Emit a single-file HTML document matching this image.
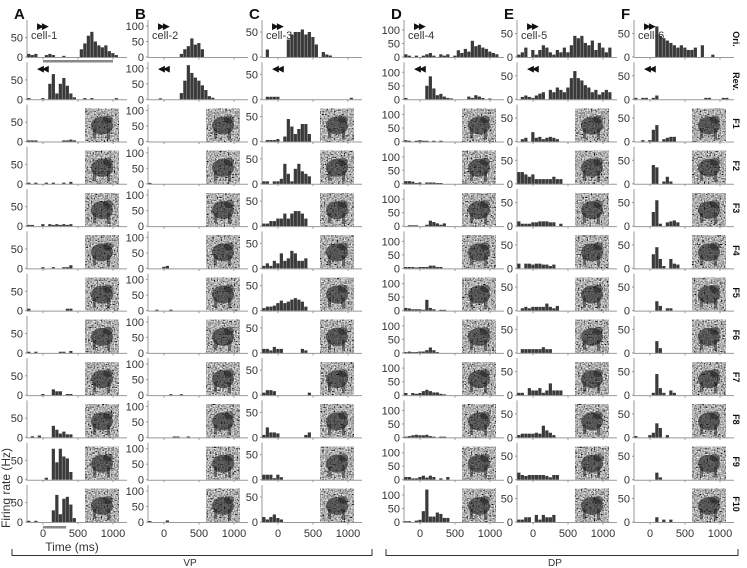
<!DOCTYPE html>
<html><head><meta charset="utf-8">
<style>
html,body{margin:0;padding:0;background:#fff;}
svg{display:block;font-family:"Liberation Sans",sans-serif;}
</style></head>
<body>
<svg id="fig" width="747" height="568" viewBox="0 0 747 568" xmlns="http://www.w3.org/2000/svg">
<defs>
<filter id="noise" x="0" y="0" width="100%" height="100%">
<feTurbulence type="fractalNoise" baseFrequency="0.7" numOctaves="1" seed="3"/>
<feColorMatrix type="matrix" values="0.33 0.33 0.33 0 0  0.33 0.33 0.33 0 0  0.33 0.33 0.33 0 0  0 0 0 0 1"/>
<feComponentTransfer><feFuncR type="linear" slope="3.2" intercept="-1.15"/><feFuncG type="linear" slope="3.2" intercept="-1.15"/><feFuncB type="linear" slope="3.2" intercept="-1.15"/></feComponentTransfer>
</filter>
</defs>
</svg>
<script>
// time bins (ms, bin centers)
const bins = [-200,-150,-100,-50,0,50,100,150,200,250,300,350,400,450,500,550,600,650,700,750,800,850,900,950,1000,1050,1100];
const rowLabels = ["Ori.","Rev.","F1","F2","F3","F4","F5","F6","F7","F8","F9","F10"];
const panelLetters = ["A","B","C","D","E","F"];
const cellNames = ["cell-1","cell-2","cell-3","cell-4","cell-5","cell-6"];
const xTicks = [0,500,1000];
const yTicksA = [0,50];
const yTicksB = [0,50,100];
const yTicksC = [0,50];
const yTicksD = [0,50,100];
const yTicksE = [0,50];
const yTicksF = [0,50];

const cellA = [
[8,5,8,0,0,5,8,5,0,0,3,0,0,0,0,20,35,55,65,40,30,25,30,15,10,5,0],
[3,0,0,0,3,0,40,65,15,40,55,35,15,5,0,0,3,0,3,0,0,0,0,0,0,3,0],
[3,3,3,0,0,0,0,0,0,0,3,3,5,3,0,0,0,0,0,0,0,0,0,0,0,0,0],
[3,0,3,0,0,3,0,3,0,0,3,0,5,0,0,0,0,0,0,0,0,0,0,0,0,0,0],
[3,3,0,0,5,0,5,3,5,3,5,3,5,0,0,0,0,0,0,0,0,0,0,0,0,0,0],
[0,0,0,0,3,0,0,3,0,0,3,3,8,0,0,0,0,0,0,0,0,0,0,0,0,0,0],
[5,0,0,0,0,0,0,0,0,0,0,5,5,0,0,0,0,0,0,0,0,0,0,0,0,0,0],
[3,0,3,0,0,0,0,0,0,3,3,0,5,0,0,0,0,0,0,0,0,0,0,0,0,0,0],
[0,0,0,0,3,0,0,15,10,10,0,3,3,0,0,0,0,0,0,0,0,0,0,0,0,0,0],
[0,3,0,5,0,0,0,30,20,10,15,8,8,0,0,0,0,0,0,0,0,0,0,0,0,0,0],
[0,0,0,0,0,5,0,80,45,80,60,55,20,0,0,0,0,0,0,0,0,0,0,0,0,0,0],
[3,0,3,0,0,0,0,30,70,20,60,65,45,10,0,0,0,0,0,0,0,0,0,0,0,0,0]];
const cellB = [
[0,0,0,0,0,0,0,0,0,10,25,35,60,40,45,25,0,0,0,0,0,0,0,0,0,0,0],
[0,0,0,3,0,0,0,0,0,20,60,110,85,70,60,45,30,10,5,0,0,0,0,0,0,0,0],
[0,0,0,0,0,0,0,0,0,0,0,0,0,0,0,0,0,0,0,0,0,0,0,0,0,0,0],
[3,0,0,0,0,0,0,0,0,0,0,0,0,0,0,0,0,0,0,0,0,0,0,0,0,0,0],
[0,0,0,0,0,0,0,0,0,0,0,0,0,0,0,0,0,0,0,0,0,0,0,0,0,0,0],
[0,0,0,0,5,8,0,0,0,0,0,0,0,0,0,0,0,0,0,0,0,0,0,0,0,0,0],
[0,0,3,0,0,0,3,0,0,0,0,0,0,0,0,0,0,0,0,0,0,0,0,0,0,0,0],
[0,0,0,0,0,0,0,0,0,0,0,0,0,0,0,0,0,0,0,0,0,0,0,0,0,0,0],
[0,0,0,0,0,0,3,0,0,3,0,0,0,0,0,0,0,0,0,0,0,0,0,0,0,0,0],
[0,0,0,0,0,0,0,3,3,0,0,3,0,0,0,0,0,0,0,0,0,0,0,0,0,0,0],
[0,0,0,0,0,0,0,0,0,0,0,0,0,0,0,0,0,0,0,0,0,0,0,0,0,0,0],
[3,0,0,0,0,5,0,0,0,0,0,0,0,0,0,0,0,0,0,0,0,0,0,0,0,0,0]];
const cellC = [
[0,15,0,0,0,0,0,35,45,50,50,55,45,50,40,25,0,10,5,3,0,0,0,0,0,0,0],
[0,5,5,5,5,0,0,0,0,0,0,0,0,0,0,0,0,0,0,0,0,0,0,0,0,3,0],
[0,3,3,3,5,0,10,45,30,15,25,35,35,15,0,0,0,0,0,0,0,0,0,0,0,0,0],
[5,5,0,5,5,10,40,20,5,30,40,25,20,15,0,0,0,0,0,0,0,0,0,0,0,0,0],
[5,5,10,10,15,15,25,15,25,30,30,25,15,0,0,0,0,0,0,0,0,0,0,0,0,0,0],
[5,10,5,15,10,30,15,20,35,30,15,15,20,0,0,0,0,0,0,0,0,0,0,0,0,0,0],
[5,8,8,10,15,20,15,18,22,25,22,18,8,0,0,0,0,0,0,0,0,0,0,0,0,0,0],
[8,8,5,12,8,8,0,0,0,0,0,8,5,0,0,0,0,0,0,0,0,0,0,0,0,0,0],
[5,10,10,8,0,0,0,0,0,0,0,0,0,5,0,0,0,0,0,0,0,0,0,0,0,0,0],
[5,20,10,10,8,0,0,0,0,0,0,0,5,10,0,0,0,0,0,0,0,0,0,0,0,0,0],
[10,10,10,3,10,5,0,0,0,0,0,0,0,0,0,0,0,0,0,0,0,0,0,0,0,0,0],
[10,5,10,15,8,5,0,0,0,0,0,0,0,0,0,0,0,0,0,0,0,0,0,0,0,0,0]];
const cellD = [
[10,5,0,5,0,5,10,15,5,0,10,5,10,0,5,25,15,30,20,60,40,45,35,30,20,15,10],
[5,0,0,0,0,0,50,85,40,15,20,10,5,3,0,0,0,0,10,5,15,10,5,0,3,0,0],
[5,3,0,3,5,3,3,0,3,0,3,0,0,0,0,0,0,0,0,0,0,0,0,0,0,0,0],
[10,10,8,3,5,0,5,5,5,3,3,0,0,0,0,0,0,0,0,0,0,0,0,0,0,0,0],
[0,3,3,3,0,0,5,20,15,10,5,10,0,0,0,0,0,0,0,0,0,0,0,0,0,0,0],
[5,5,5,3,5,5,5,10,10,5,5,0,0,0,0,0,0,0,0,0,0,0,0,0,0,0,0],
[10,8,5,5,5,3,40,10,5,0,3,3,0,0,0,0,0,0,0,0,0,0,0,0,0,0,0],
[3,5,3,3,5,5,10,20,10,3,0,0,0,0,0,0,0,0,0,0,0,0,0,0,0,0,0],
[8,0,8,5,8,15,20,15,10,10,5,3,0,0,0,0,0,0,0,0,0,0,0,0,0,0,0],
[3,5,8,10,8,8,10,5,3,0,3,3,0,0,0,0,0,0,0,0,0,0,0,0,0,0,0],
[10,10,5,5,10,15,8,15,10,0,5,0,10,0,0,0,0,0,0,0,0,0,0,0,0,0,0],
[3,3,0,5,8,40,120,20,20,35,30,15,15,0,0,0,0,0,0,0,0,0,0,0,0,0,0]];
const cellE = [
[5,10,20,0,15,5,15,25,20,10,5,15,10,20,10,25,45,40,45,30,25,35,15,30,20,10,20],
[0,5,8,5,3,8,12,15,0,20,15,25,20,15,25,45,60,45,40,30,25,15,20,10,15,20,15],
[0,5,8,0,20,8,10,5,8,10,8,5,0,0,0,0,0,0,0,0,0,0,0,0,0,0,0],
[25,25,20,15,20,10,10,10,10,10,15,10,10,0,0,0,0,0,0,0,0,0,0,0,0,0,0],
[10,5,5,5,8,8,10,10,10,8,8,0,5,0,0,0,0,0,0,0,0,0,0,0,0,0,0],
[10,0,10,10,8,10,10,8,8,5,8,0,0,0,0,0,0,0,0,0,0,0,0,0,0,0,0],
[0,5,8,5,8,8,8,8,15,8,5,10,0,0,0,0,0,0,0,0,0,0,0,0,0,0,0],
[0,8,8,8,8,8,8,12,8,8,0,0,0,0,0,0,0,0,0,0,0,0,0,0,0,0,0],
[5,5,0,15,10,10,15,5,10,25,10,10,10,0,0,0,0,0,0,0,0,0,0,0,0,0,0],
[5,8,8,8,8,10,8,25,15,10,5,0,0,0,0,0,0,0,0,0,0,0,0,0,0,0,0],
[15,10,8,10,10,10,10,10,8,5,10,10,0,0,0,0,0,0,0,0,0,0,0,0,0,0,0],
[5,5,10,10,0,15,5,15,10,10,15,0,0,0,0,0,0,0,0,0,0,0,0,0,0,0,0]];
const cellF = [
[0,0,0,0,0,0,65,45,40,35,30,25,20,25,20,15,15,20,0,25,0,0,5,0,0,0,0],
[3,0,3,3,0,3,8,0,0,0,0,0,0,0,0,0,0,0,0,0,3,3,0,0,0,3,3],
[0,0,3,0,3,25,35,0,5,8,10,10,0,0,0,0,0,0,0,0,0,0,0,0,0,0,0],
[0,0,0,0,0,40,35,0,5,15,5,0,0,0,0,0,0,0,0,0,0,0,0,0,0,0,0],
[0,0,0,0,0,30,55,5,0,8,10,12,8,0,0,0,0,0,0,0,0,0,0,0,0,0,0],
[0,0,0,0,0,30,45,20,5,0,20,10,8,0,0,0,0,0,0,0,0,0,0,0,0,0,0],
[0,0,0,0,0,0,20,10,0,5,5,0,0,0,0,0,0,0,0,0,0,0,0,0,0,0,0],
[0,0,0,0,0,0,25,10,0,0,0,0,0,0,0,0,0,0,0,0,0,0,0,0,0,0,0],
[0,0,0,0,0,5,45,15,5,0,10,5,0,0,0,0,0,0,0,0,0,0,0,0,0,0,0],
[3,0,0,0,5,10,30,20,0,5,0,0,0,0,0,0,0,0,0,0,0,0,0,0,0,0,0],
[0,0,0,0,0,0,15,5,0,0,0,0,0,0,0,0,0,0,0,0,0,0,0,0,0,0,0],
[0,0,0,0,0,0,10,0,5,0,5,0,0,0,0,0,0,0,0,0,0,0,0,0,0,0,0]];

const cells = [cellA,cellB,cellC,cellD,cellE,cellF];
const yTicksAll = [yTicksA,yTicksB,yTicksC,yTicksD,yTicksE,yTicksF];
// layout
const spines = [27,148,262,404,517,634];
const yScalePx = [0.387,0.31,0.5,0.27,0.47,0.47];
const pxPerMs = 0.07;
const zeroOff = 16;
const axisW = 100;
const base0 = 57, rowStep = 42.27;

const svg = document.getElementById('fig');
const NS = 'http://www.w3.org/2000/svg';
function mk(tag, attrs, parent){
  const e = document.createElementNS(NS, tag);
  for (const k in attrs) e.setAttribute(k, attrs[k]);
  (parent||svg).appendChild(e);
  return e;
}
function xOf(c, t){ return spines[c] + zeroOff + t*pxPerMs; }
function yOf(c, r, v){ return base0 + r*rowStep - v*yScalePx[c]; }

for (let c=0;c<6;c++){
  const L = mk('text',{x:spines[c]-13,y:19,'font-size':15,'font-weight':'bold',fill:'#111'});
  
  
  L.textContent = panelLetters[c];
  for (let r=0;r<12;r++){
    const g = mk('g',{});
    
    
    const b = base0 + r*rowStep;
    const sp = mk('line',{x1:spines[c],y1:b-37,x2:spines[c],y2:b+1,stroke:'#999','stroke-width':1},g);
    
    
    const ax = mk('line',{x1:spines[c],y1:b+0.5,x2:spines[c]+axisW,y2:b+0.5,stroke:'#999','stroke-width':1},g);
    
    
    for (const t of xTicks){
      mk('line',{x1:xOf(c,t),y1:b+0.5,x2:xOf(c,t),y2:b+2.5,stroke:'#999'},g);
    }
    for (const v of yTicksAll[c]){
      const yy = yOf(c,r,v);
      mk('line',{x1:spines[c]-2,y1:yy,x2:spines[c],y2:yy,stroke:'#999'},g);
      const tl = mk('text',{x:spines[c]-4,y:yy+4,'font-size':11,'text-anchor':'end',fill:'#333'},g);
      
      
      tl.textContent = v;
    }
    if (r>=2){
      const ix = spines[c]+58, iy = b-33;
      const im = mk('g',{},g);
      
      
      mk('rect',{x:ix,y:iy,width:34,height:33,fill:'#888',filter:'url(#noise)'},im);
      mk('ellipse',{cx:ix+17,cy:iy+17,rx:11,ry:9,fill:'#1a1a1a',opacity:0.6},im);
      mk('ellipse',{cx:ix+23,cy:iy+11,rx:5,ry:4,fill:'#1a1a1a',opacity:0.5},im);
      mk('rect',{x:ix+8,y:iy+20,width:3,height:10,fill:'#1a1a1a',opacity:0.5},im);
      mk('rect',{x:ix+22,y:iy+20,width:3,height:11,fill:'#1a1a1a',opacity:0.5},im);
    }
    const vals = cells[c][r];
    for (let i=0;i<bins.length;i++){
      const v = vals[i];
      if (!v) continue;
      const x0 = xOf(c,bins[i]-25), x1 = xOf(c,bins[i]+25);
      const y = yOf(c,r,v);
      const bar = mk('rect',{x:x0,y:y,width:Math.max(0.5,x1-x0-0.3),height:b-y,fill:'#3a3a3a'},g);
      
      
    }
    if (r<2){
      const ar = mk('text',{x:spines[c]+10,y:b-28,'font-size':9,fill:'#111','letter-spacing':'-2'},g);
      
      
      ar.textContent = r==0 ? '\u25B6\u25B6' : '\u25C0\u25C0';
    }
    if (r==0){
      const cn = mk('text',{x:spines[c]+4,y:b-18,'font-size':11,fill:'#333'},g);
      
      
      cn.textContent = cellNames[c];
    }
  }
  for (const t of xTicks){
    const xl = mk('text',{x:xOf(c,t),y:537,'font-size':11,'text-anchor':'middle',fill:'#333'});
    
    
    xl.textContent = t;
  }
}
for (let r=0;r<12;r++){
  const yc = base0 + r*rowStep - 18;
  const rl = mk('text',{x:733,y:yc,'font-size':9,'font-weight':'bold','text-anchor':'middle',fill:'#111',transform:`rotate(90 733 ${yc})`});
  
  
  rl.textContent = rowLabels[r];
}
const sb1 = mk('rect',{x:xOf(0,0),y:60,width:1000*pxPerMs,height:2.5,fill:'#888'});


const sb2 = mk('rect',{x:xOf(0,0),y:526,width:330*pxPerMs,height:2.5,fill:'#888'});


const xt = mk('text',{x:72,y:551,'font-size':12,'text-anchor':'middle',fill:'#333'});


xt.textContent = 'Time (ms)';
const yt = mk('text',{x:10,y:488,'font-size':12,'text-anchor':'middle',fill:'#333',transform:'rotate(-90 10 488)'});


yt.textContent = 'Firing rate (Hz)';
const vp = mk('path',{d:'M12 549 V555.5 H372 V549',fill:'none',stroke:'#333','stroke-width':1});


const dp = mk('path',{d:'M386 549 V555.5 H738 V549',fill:'none',stroke:'#333','stroke-width':1});


const vpt = mk('text',{x:190,y:566,'font-size':10,'text-anchor':'middle',fill:'#333'});


vpt.textContent = 'VP';
const dpt = mk('text',{x:555,y:566,'font-size':10,'text-anchor':'middle',fill:'#333'});


dpt.textContent = 'DP';
</script>
</body></html>
